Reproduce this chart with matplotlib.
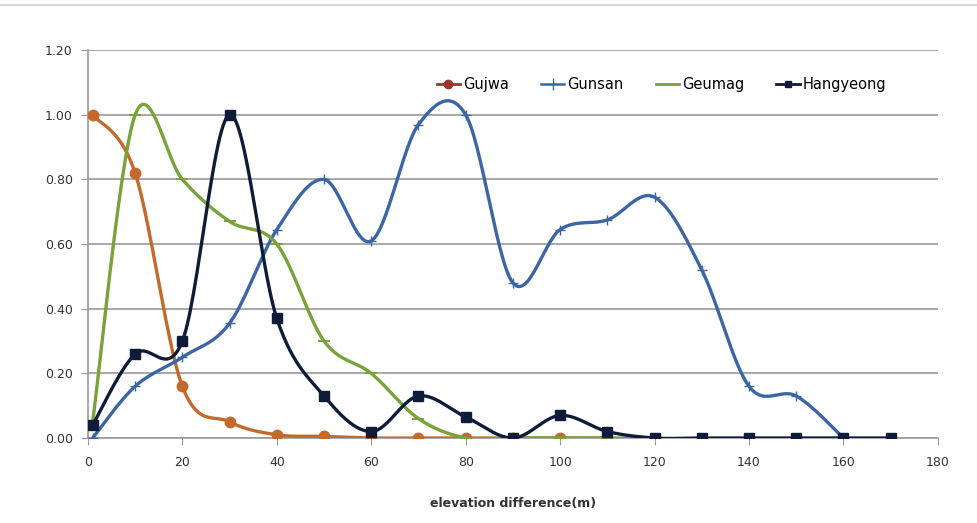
import numpy as np
import matplotlib
matplotlib.use("Agg")
import matplotlib.pyplot as plt
from matplotlib.lines import Line2D

# elevation difference (m) and normalised frequencies per site
x_gujwa = [1, 10, 20, 30, 40, 50, 60, 70, 80, 90, 100, 110]
gujwa = [1.00, 0.82, 0.16, 0.05, 0.01, 0.005, 0.0, 0.0, 0.0, 0.0, 0.0, 0.0]

x_gunsan = [1, 10, 20, 30, 40, 50, 60, 70, 80, 90, 100, 110, 120, 130, 140, 150, 160]
gunsan = [0.0, 0.16, 0.25, 0.355, 0.645, 0.80, 0.61, 0.97, 1.00, 0.48, 0.645, 0.675,
          0.745, 0.52, 0.16, 0.13, 0.0]

x_geumag = [1, 10, 20, 30, 40, 50, 60, 70, 80, 90, 100, 110, 120]
geumag = [0.05, 1.00, 0.80, 0.67, 0.60, 0.30, 0.20, 0.06, 0.0, 0.0, 0.0, 0.0, 0.0]

x_hang = [1, 10, 20, 30, 40, 50, 60, 70, 80, 90, 100, 110, 120, 130, 140, 150, 160, 170]
hangyeong = [0.04, 0.26, 0.30, 1.00, 0.37, 0.13, 0.02, 0.13, 0.065, 0.0, 0.07, 0.02,
             0.0, 0.0, 0.0, 0.0, 0.0, 0.0]

x_ticks = [0, 20, 40, 60, 80, 100, 120, 140, 160, 180]
y_ticks = [0.0, 0.2, 0.4, 0.6, 0.8, 1.0, 1.2]


def smooth(xs, ys, n=30):
    """Bezier smoothing through every point (spreadsheet-style smoothed line)."""
    p = np.column_stack([xs, ys]).astype(float)
    ext = np.vstack([p[0], p, p[-1]])
    out = []
    t = np.linspace(0, 1, n)[:, None]
    for i in range(len(p) - 1):
        p0, p1, p2, p3 = ext[i], ext[i + 1], ext[i + 2], ext[i + 3]
        b1 = p1 + (p2 - p0) / 6.0
        b2 = p2 - (p3 - p1) / 6.0
        seg = ((1 - t) ** 3) * p1 + 3 * ((1 - t) ** 2) * t * b1 + 3 * (1 - t) * t ** 2 * b2 + t ** 3 * p2
        out.append(seg if i == 0 else seg[1:])
    c = np.vstack(out)
    return c[:, 0], c[:, 1]


fig = plt.figure(figsize=(9.77, 5.23), dpi=100)
ax = fig.add_axes([0.090, 0.1625, 0.870, 0.7415])

# thin chart-area border along the top
fig.add_artist(Line2D([0.0, 1.0], [0.99, 0.99], transform=fig.transFigure, color="#D8D8D8", lw=1.5))

c_gujwa = "#C4692C"
c_gunsan = "#3B66A3"
c_geumag = "#78A23A"
c_hang = "#0E1C3A"

series = [
    (x_gujwa, gujwa, c_gujwa, dict(marker="o", ms=7.5, mfc=c_gujwa, mec=c_gujwa)),
    (x_gunsan, gunsan, c_gunsan, dict(marker="+", ms=7.5, mew=1.0, mec=c_gunsan)),
    (x_geumag, geumag, c_geumag, dict(marker="_", ms=8, mew=1.4, mec=c_geumag)),
    (x_hang, hangyeong, c_hang, dict(marker="s", ms=7.5, mfc=c_hang, mec=c_hang)),
]
for z, (xs, ys, col, mk) in enumerate(series):
    sx, sy = smooth(xs, ys)
    ax.plot(sx, sy, color=col, lw=2.4, zorder=3 + z, solid_capstyle="round")
    ax.plot(xs, ys, ls="none", zorder=3 + z, **mk)

ax.set_xlim(0, 180)
ax.set_ylim(0, 1.2)
ax.set_xticks(x_ticks)
ax.set_yticks(y_ticks)
ax.set_yticklabels([f"{v:.2f}" for v in y_ticks])
ax.grid(axis="y", color="#9A9A9A", lw=1.2)
ax.set_axisbelow(True)
for s in ("top", "right"):
    ax.spines[s].set_visible(False)
for s in ("left", "bottom"):
    ax.spines[s].set_color("#9A9A9A")
    ax.spines[s].set_linewidth(1.2)
ax.tick_params(axis="y", length=5, color="#9A9A9A", labelsize=9, labelcolor="#333333", pad=6)
ax.tick_params(axis="x", length=5, color="#9A9A9A", labelsize=9, labelcolor="#333333", pad=8)
ax.set_xlabel("elevation difference(m)", fontsize=9, fontweight="bold", color="#333333", labelpad=20)

handles = [
    Line2D([], [], color="#A3332E", lw=2, marker="o", ms=6, mfc="#A3332E", mec="#A3332E"),
    Line2D([], [], color=c_gunsan, lw=1.8, marker="+", ms=8, mec=c_gunsan),
    Line2D([], [], color=c_geumag, lw=2),
    Line2D([], [], color=c_hang, lw=2, marker="s", ms=5, mfc=c_hang, mec=c_hang),
]
ax.legend(handles, ["Gujwa", "Gunsan", "Geumag", "Hangyeong"], ncol=4, frameon=False,
          loc="upper left", bbox_to_anchor=(0.395, 0.965), fontsize=10.5,
          handlelength=1.6, handletextpad=0.2, columnspacing=2.2)

fig.savefig("out.png", dpi=100)
